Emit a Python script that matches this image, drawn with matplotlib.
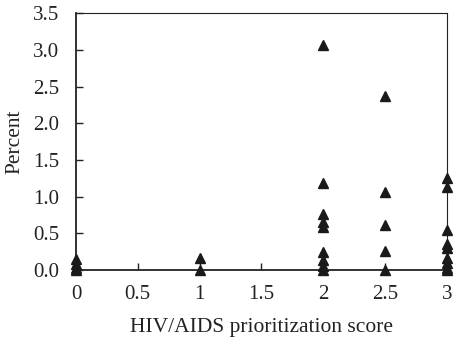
import matplotlib
matplotlib.use("Agg")
import matplotlib.pyplot as plt

plt.rcParams['font.family'] = ['Liberation Serif', 'DejaVu Serif']

# prioritization scores and percent values
score_0 = [0, 0.03, 0.08, 0.15]
score_1 = [0, 0.17]
score_2 = [3.07, 1.18, 0.77, 0.66, 0.59, 0.25, 0.14, 0.06, 0]
score_25 = [2.37, 1.07, 0.62, 0.26, 0]
score_3 = [1.25, 1.13, 0.54, 0.35, 0.3, 0.17, 0.1, 0.03, 0]

groups = [(0, score_0), (1, score_1), (2, score_2), (2.5, score_25), (3, score_3)]

x_ticks = [0, 0.5, 1, 1.5, 2, 2.5, 3]
x_labels = ["0", "0.5", "1", "1.5", "2", "2.5", "3"]
y_ticks = [0, 0.5, 1, 1.5, 2, 2.5, 3, 3.5]

fig = plt.figure(figsize=(4.55, 3.45), dpi=100)
ax = fig.add_axes([0.167, 0.217, 0.815, 0.745])

for score, vals in groups:
    ax.plot([score] * len(vals), vals, linestyle="none", marker="^",
            color="#1a1a1a", markersize=7, clip_on=False, zorder=3)

ax.set_xlim(0, 3)
ax.set_ylim(0, 3.5)
ax.set_xticks(x_ticks)
ax.set_xticklabels(x_labels)
ax.set_yticks(y_ticks)
ax.set_yticklabels(["%.1f" % v for v in y_ticks])
ax.tick_params(direction="in", length=5, width=1, labelsize=15, colors="#222222")
ax.tick_params(axis="x", pad=11)
ax.tick_params(axis="y", pad=12)

for s in ax.spines.values():
    s.set_color("#222222")
ax.spines["left"].set_linewidth(1.3)
ax.spines["bottom"].set_linewidth(1.3)
ax.spines["top"].set_linewidth(0.8)
ax.spines["right"].set_linewidth(0.8)

ax.set_xlabel("HIV/AIDS prioritization score", fontsize=15.5, color="#222222", labelpad=10)
ax.set_ylabel("Percent", fontsize=15.5, color="#222222", labelpad=6)

fig.savefig("out.png", dpi=100)
